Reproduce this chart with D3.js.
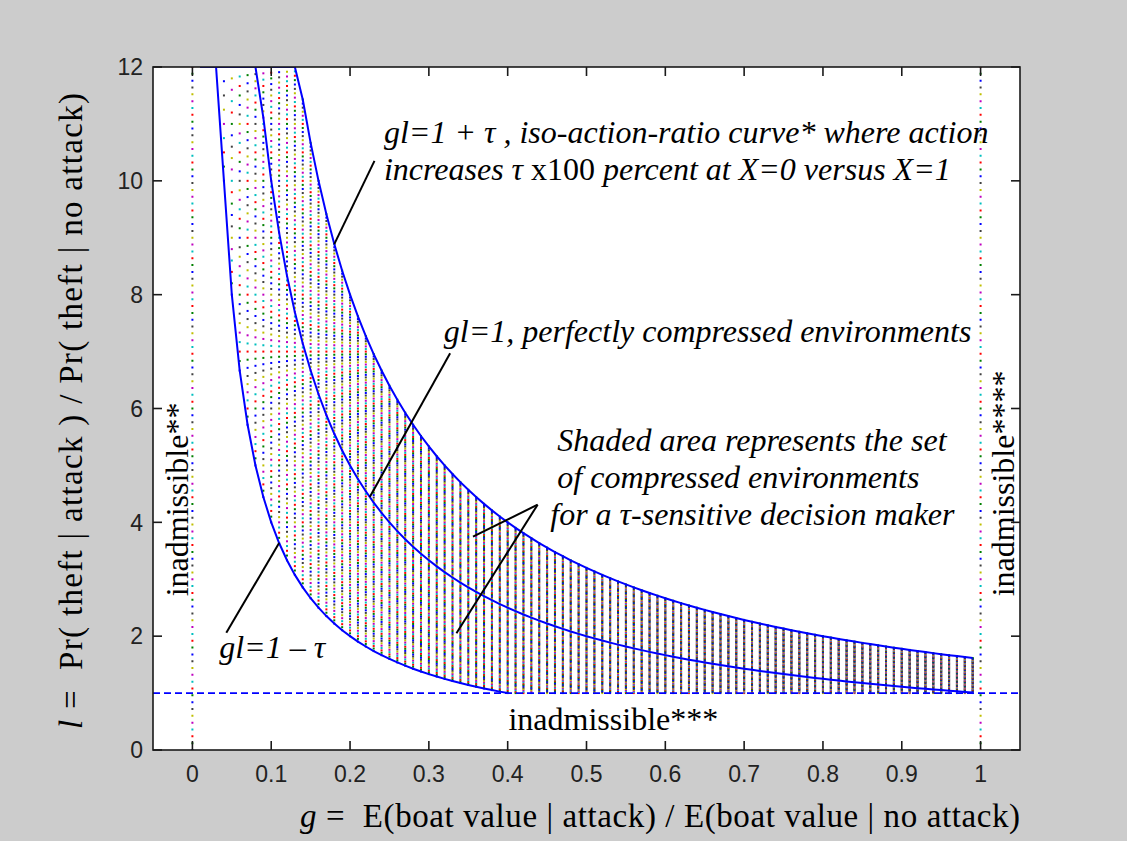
<!DOCTYPE html>
<html><head><meta charset="utf-8">
<script src="https://cdn.jsdelivr.net/npm/d3@7"></script>
<style>html,body{margin:0;padding:0;background:#cccccc;} svg{display:block}</style>
</head><body><svg id="chart" width="1127" height="841"></svg>
<script>
// ---------- data ----------
const xTicks = [0, 0.1, 0.2, 0.3, 0.4, 0.5, 0.6, 0.7, 0.8, 0.9, 1];
const xTickLabels = ["0", "0.1", "0.2", "0.3", "0.4", "0.5", "0.6", "0.7", "0.8", "0.9", "1"];
const yTicks = [0, 2, 4, 6, 8, 10, 12];
const yTickLabels = ["0", "2", "4", "6", "8", "10", "12"];
const tau = 0.6;
const curveLevels = [1 - tau, 1, 1 + tau];          // gl = 1 - tau, gl = 1, gl = 1 + tau
const lMax = 12;                                     // plotted ceiling of l
const lMin = 1;                                      // admissible floor of l
const gBounds = [0, 1];                              // admissible g limits
const gGrid = [0.01,0.02,0.03,0.04,0.05,0.06,0.07,0.08,0.09,0.10,
  0.11,0.12,0.13,0.14,0.15,0.16,0.17,0.18,0.19,0.20,
  0.21,0.22,0.23,0.24,0.25,0.26,0.27,0.28,0.29,0.30,
  0.31,0.32,0.33,0.34,0.35,0.36,0.37,0.38,0.39,0.40,
  0.41,0.42,0.43,0.44,0.45,0.46,0.47,0.48,0.49,0.50,
  0.51,0.52,0.53,0.54,0.55,0.56,0.57,0.58,0.59,0.60,
  0.61,0.62,0.63,0.64,0.65,0.66,0.67,0.68,0.69,0.70,
  0.71,0.72,0.73,0.74,0.75,0.76,0.77,0.78,0.79,0.80,
  0.81,0.82,0.83,0.84,0.85,0.86,0.87,0.88,0.89,0.90,
  0.91,0.92,0.93,0.94,0.95,0.96,0.97,0.98,0.99];
// gl levels filling the shaded (tau-sensitive) band, 1 - tau ... 1 + tau
const shadeLevels = [0.40,0.41,0.42,0.43,0.44,0.45,0.46,0.47,0.48,0.49,
  0.50,0.51,0.52,0.53,0.54,0.55,0.56,0.57,0.58,0.59,
  0.60,0.61,0.62,0.63,0.64,0.65,0.66,0.67,0.68,0.69,
  0.70,0.71,0.72,0.73,0.74,0.75,0.76,0.77,0.78,0.79,
  0.80,0.81,0.82,0.83,0.84,0.85,0.86,0.87,0.88,0.89,
  0.90,0.91,0.92,0.93,0.94,0.95,0.96,0.97,0.98,0.99,
  1.00,1.01,1.02,1.03,1.04,1.05,1.06,1.07,1.08,1.09,
  1.10,1.11,1.12,1.13,1.14,1.15,1.16,1.17,1.18,1.19,
  1.20,1.21,1.22,1.23,1.24,1.25,1.26,1.27,1.28,1.29,
  1.30,1.31,1.32,1.33,1.34,1.35,1.36,1.37,1.38,1.39,
  1.40,1.41,1.42,1.43,1.44,1.45,1.46,1.47,1.48,1.49,
  1.50,1.51,1.52,1.53,1.54,1.55,1.56,1.57,1.58,1.59,1.60];
const colorCycle = ["#0000ff", "#008000", "#ff0000", "#00bfbf", "#bf00bf", "#bfbf00", "#404040"];

// ---------- layout ----------
const W = 1127, H = 841;
const plot = {left: 153, right: 1020, top: 67, bottom: 750};
const svg = d3.select("#chart");
const x = d3.scaleLinear().domain([-0.05, 1.05]).range([plot.left, plot.right]);
const y = d3.scaleLinear().domain([0, 12]).range([plot.bottom, plot.top]);
const SERIF = "'Liberation Serif','Times New Roman',serif";
const SANS = "'Liberation Sans',Arial,Helvetica,sans-serif";

svg.append("rect").attr("width", W).attr("height", H).attr("fill", "#cccccc");
svg.append("rect").attr("x", plot.left).attr("y", plot.top)
  .attr("width", plot.right - plot.left).attr("height", plot.bottom - plot.top).attr("fill", "#ffffff");

svg.append("clipPath").attr("id", "clip").append("rect")
  .attr("x", plot.left).attr("y", plot.top)
  .attr("width", plot.right - plot.left).attr("height", plot.bottom - plot.top);
const g = svg.append("g").attr("clip-path", "url(#clip)");

// ---------- shaded band: points on iso-gl curves ----------
const shadePts = [];
gGrid.forEach(gv => {
  shadeLevels.forEach((c, i) => {
    const l = c / gv;
    if (l >= lMin - 1e-9 && l <= lMax + 1e-9) shadePts.push({g: gv, l: l, k: i % colorCycle.length});
  });
});
g.append("g").selectAll("rect").data(shadePts).join("rect")
  .attr("x", d => x(d.g) - 1).attr("y", d => y(d.l) - 1)
  .attr("width", 2).attr("height", 2)
  .attr("fill", d => colorCycle[d.k]);

// ---------- inadmissible boundaries ----------
const dotStep = y(0) - y(0.12);
const period = dotStep * colorCycle.length;
gBounds.forEach(gb => {
  colorCycle.forEach((col, i) => {
    g.append("line")
      .attr("x1", x(gb)).attr("x2", x(gb))
      .attr("y1", y(0)).attr("y2", y(lMax))
      .attr("stroke", col).attr("stroke-width", 2)
      .attr("stroke-dasharray", `2 ${period - 2}`)
      .attr("stroke-dashoffset", period - i * dotStep + 1);
  });
});
g.append("line")
  .attr("x1", x(-0.05)).attr("x2", x(1.05))
  .attr("y1", y(lMin)).attr("y2", y(lMin))
  .attr("stroke", "#0000ff").attr("stroke-width", 1.6)
  .attr("stroke-dasharray", "7 4");

// ---------- iso-action-ratio curves ----------
const line = d3.line().x(d => x(d.g)).y(d => y(d.l));
curveLevels.forEach(c => {
  const pts = gGrid.filter(gv => c / gv >= lMin - 1e-9)
    .map(gv => ({g: gv, l: Math.min(lMax, c / gv)}));
  g.append("path").datum(pts).attr("d", line)
    .attr("fill", "none").attr("stroke", "#0000ff").attr("stroke-width", 2);
});

// ---------- annotation pointer lines (data coords) ----------
const pointers = [
  [[0.231, 10.35], [0.180, 1.6 / 0.180]],
  [[0.327, 6.97], [0.225, 1 / 0.225]],
  [[0.438, 4.31], [0.356, 3.75]],
  [[0.438, 4.31], [0.335, 2.05]],
  [[0.043, 2.06], [0.110, 0.4 / 0.110]]
];
pointers.forEach(p => {
  svg.append("line")
    .attr("x1", x(p[0][0])).attr("y1", y(p[0][1]))
    .attr("x2", x(p[1][0])).attr("y2", y(p[1][1]))
    .attr("stroke", "#000").attr("stroke-width", 2);
});

// ---------- annotation texts ----------
const annFS = 32;
function ann(gx, ly, parts, anchor) {
  const t = svg.append("text").attr("x", x(gx)).attr("y", y(ly))
    .attr("font-family", SERIF).attr("font-size", annFS).attr("fill", "#000")
    .attr("text-anchor", anchor || "start");
  parts.forEach(p => t.append("tspan").attr("font-style", p[1] ? "italic" : "normal").text(p[0]));
  return t;
}
ann(0.243, 10.66, [["gl=1 + \u03c4 , iso-action-ratio curve* where action", true]]);
ann(0.243, 10.01, [["increases \u03c4 ", true], ["x100", false], [" percent at X=0 versus X=1", true]]);
ann(0.319, 7.16, [["gl=1, perfectly compressed environments", true]]);
ann(0.463, 5.26, [["Shaded area represents the set", true]]);
ann(0.463, 4.61, [["of compressed environments", true]]);
ann(0.454, 3.95, [["for a \u03c4-sensitive decision maker", true]]);
ann(0.034, 1.61, [["gl=1 \u2013 \u03c4", true]]);
ann(0.401, 0.36, [["inadmissible***", false]]);

svg.append("text")
  .attr("transform", `translate(${x(-0.006)},${y(2.7)}) rotate(-90)`)
  .attr("font-family", SERIF).attr("font-size", annFS).text("inadmissible**");
svg.append("text")
  .attr("transform", `translate(${x(1.043)},${y(2.7)}) rotate(-90)`)
  .attr("font-family", SERIF).attr("font-size", annFS).text("inadmissible****");

// ---------- axes box and ticks ----------
const axisG = svg.append("g");
axisG.append("rect").attr("x", plot.left).attr("y", plot.top)
  .attr("width", plot.right - plot.left).attr("height", plot.bottom - plot.top)
  .attr("fill", "none").attr("stroke", "#1a1a1a").attr("stroke-width", 1.6);
const tl = 9;
xTicks.forEach((t, i) => {
  axisG.append("line").attr("x1", x(t)).attr("x2", x(t)).attr("y1", plot.bottom).attr("y2", plot.bottom - tl)
    .attr("stroke", "#1a1a1a").attr("stroke-width", 1.6);
  axisG.append("line").attr("x1", x(t)).attr("x2", x(t)).attr("y1", plot.top).attr("y2", plot.top + tl)
    .attr("stroke", "#1a1a1a").attr("stroke-width", 1.6);
  axisG.append("text").attr("x", x(t)).attr("y", 782)
    .attr("text-anchor", "middle").attr("font-family", SANS).attr("font-size", 23)
    .attr("fill", "#222").text(xTickLabels[i]);
});
yTicks.forEach((t, i) => {
  axisG.append("line").attr("x1", plot.left).attr("x2", plot.left + tl).attr("y1", y(t)).attr("y2", y(t))
    .attr("stroke", "#1a1a1a").attr("stroke-width", 1.6);
  axisG.append("line").attr("x1", plot.right).attr("x2", plot.right - tl).attr("y1", y(t)).attr("y2", y(t))
    .attr("stroke", "#1a1a1a").attr("stroke-width", 1.6);
  axisG.append("text").attr("x", 143).attr("y", y(t) + 8.3)
    .attr("text-anchor", "end").attr("font-family", SANS).attr("font-size", 23)
    .attr("fill", "#222").text(yTickLabels[i]);
});

// ---------- axis labels ----------
const xl = svg.append("text").attr("x", 300).attr("y", 827)
  .attr("font-family", SERIF).attr("font-size", 33).attr("fill", "#000")
  .attr("textLength", 720).attr("lengthAdjust", "spacing");
xl.append("tspan").attr("font-style", "italic").text("g");
xl.append("tspan").text(" =\u00a0 E(boat value | attack) / E(boat value | no attack)");

const yl = svg.append("text")
  .attr("transform", `translate(82,411) rotate(-90)`)
  .attr("text-anchor", "middle")
  .attr("font-family", SERIF).attr("font-size", 33).attr("fill", "#000")
  .attr("textLength", 636).attr("lengthAdjust", "spacing");
yl.append("tspan").attr("font-style", "italic").text("l");
yl.append("tspan").text(" =\u00a0 Pr( theft | attack ) / Pr( theft | no attack)");
</script>
</body></html>
